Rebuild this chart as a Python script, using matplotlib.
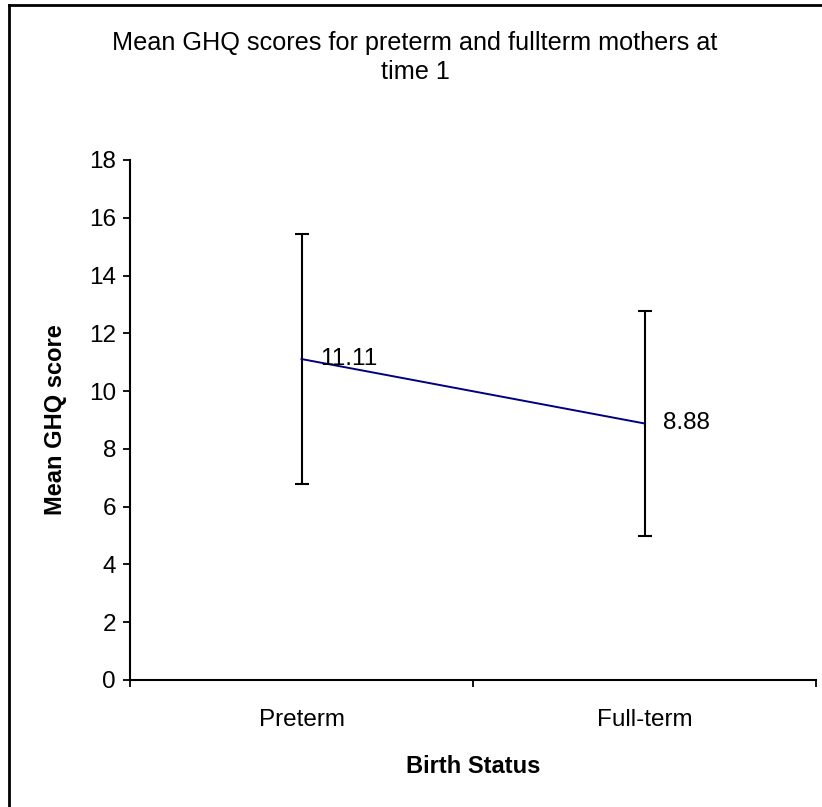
import matplotlib.pyplot as plt
from matplotlib.lines import Line2D

plt.rcParams["font.family"] = ["Liberation Sans", "DejaVu Sans"]

# ---------- Datos ----------
groups = ["Preterm", "Full-term"]
means = [11.11, 8.88]
sd = [4.33, 3.88]
y_ticks = [0, 2, 4, 6, 8, 10, 12, 14, 16, 18]

W, H = 822, 807
fig = plt.figure(figsize=(W / 100, H / 100), dpi=100)
ax = fig.add_axes([130 / W, 1 - 680 / H, (816 - 130) / W, (680 - 160) / H])

x = list(range(len(groups)))
ax.errorbar(x, means, yerr=sd, fmt="none", ecolor="black", elinewidth=1.5,
            capsize=5, capthick=1.5, zorder=2)
ax.plot(x, means, color="#000080", lw=1.4, zorder=3)

for xi, m in zip(x, means):
    ax.annotate(f"{m:.2f}", (xi, m), xytext=(13.5, 0), textcoords="offset points",
                ha="left", va="center", fontsize=17.5)

ax.set_xlim(-0.5, len(groups) - 0.5)
ax.set_ylim(0, 18)
ax.set_yticks(y_ticks)
ax.set_xticks([-0.5, 0.5, 1.5])
ax.set_xticklabels([])
ax.set_xticks(x, minor=True)
ax.set_xticklabels(groups, minor=True)
ax.tick_params(axis="x", which="major", length=5, width=1.3, direction="out")
ax.tick_params(axis="x", which="minor", length=0, pad=21, labelsize=17.5)
ax.tick_params(axis="y", length=5, width=1.3, direction="out", labelsize=17.5, pad=5)

for s in ["top", "right"]:
    ax.spines[s].set_visible(False)
for s in ["left", "bottom"]:
    ax.spines[s].set_linewidth(1.5)

ax.set_xlabel("Birth Status", fontsize=17, fontweight="bold", labelpad=17)
ax.set_ylabel("Mean GHQ score", fontsize=17, fontweight="bold", labelpad=16)

fig.text(415 / W, 1 - 57.5 / H, "Mean GHQ scores for preterm and fullterm mothers at\ntime 1",
         ha="center", va="center", fontsize=18.2, linespacing=1.3)

# borde del gráfico (solo izquierda y arriba)
fig.add_artist(Line2D([9 / W, 9 / W], [0, 1 - 5 / H], color="black", lw=2,
                      transform=fig.transFigure))
fig.add_artist(Line2D([9 / W, 1], [1 - 5 / H, 1 - 5 / H], color="black", lw=2,
                      transform=fig.transFigure))

fig.savefig("out.png", dpi=100)
